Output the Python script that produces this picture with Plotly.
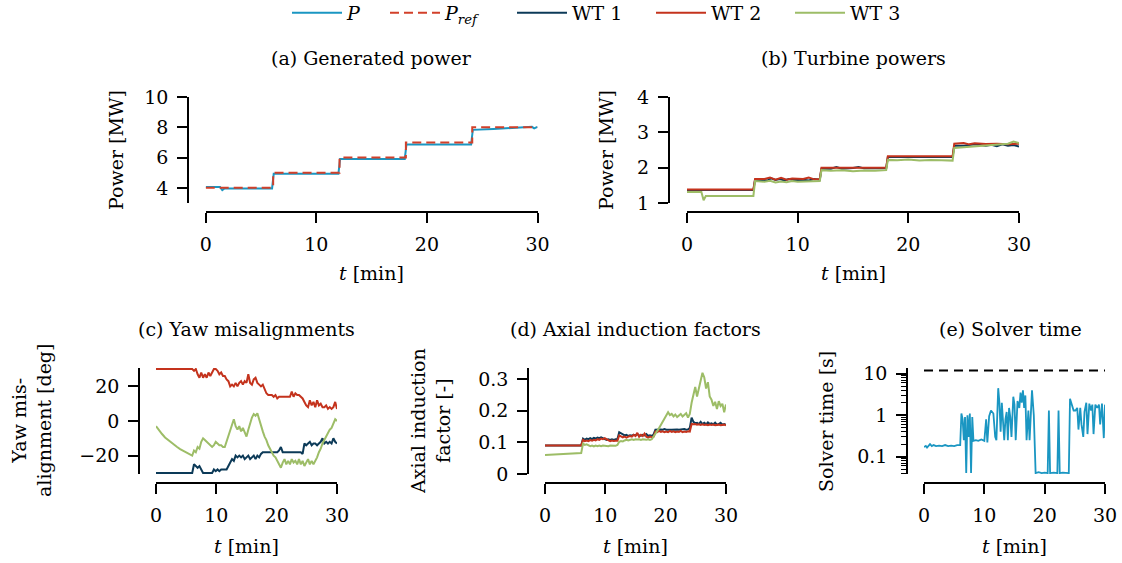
import plotly.graph_objects as go

# ---------------- data ----------------
# (a) generated power
T_P = [0, 1.3, 1.5, 1.7, 6.0, 6.15, 12.0, 12.15, 18.0, 18.15, 24.0, 24.15, 26.0, 28.0, 29.5, 29.7, 30.0]
P = [4.05, 4.05, 3.85, 3.96, 3.96, 4.93, 4.93, 5.91, 5.91, 6.86, 6.86, 7.83, 7.88, 7.95, 8.03, 7.93, 8.03]
T_REF = [0, 6.1, 6.1, 12.1, 12.1, 18.1, 18.1, 24.1, 24.1, 30]
P_REF = [4, 4, 5, 5, 6, 6, 7, 7, 8, 8]

# (b) turbine powers
T_B1 = [0, 6.0, 6.15, 7.0, 7.3, 7.6, 8.0, 8.4, 8.8, 9.2, 9.6, 10.5, 11.0, 11.5, 12.0, 12.15, 13.0, 13.5, 14.0,
        15.0, 15.5, 16.0, 18.0, 18.15, 24.0, 24.15, 25.0, 26.0, 27.0, 27.5, 28.0, 28.5, 29.0, 29.5, 30.0]
WT1_P = [1.37, 1.37, 1.66, 1.66, 1.64, 1.70, 1.65, 1.68, 1.64, 1.68, 1.65, 1.66, 1.64, 1.68, 1.66, 1.97, 1.97, 2.02, 1.97,
         1.99, 2.02, 1.98, 1.98, 2.30, 2.30, 2.62, 2.62, 2.66, 2.62, 2.65, 2.61, 2.66, 2.62, 2.64, 2.60]
T_B2 = [0, 6.0, 6.15, 7.0, 7.5, 8.0, 8.5, 9.0, 9.5, 10.5, 11.0, 11.5, 12.0, 12.15, 18.0, 18.15, 24.0, 24.15,
        25.0, 25.5, 26.0, 27.0, 28.0, 29.0, 30.0]
WT2_P = [1.38, 1.38, 1.68, 1.68, 1.72, 1.66, 1.71, 1.66, 1.69, 1.68, 1.72, 1.67, 1.68, 2.00, 2.00, 2.32, 2.32, 2.68,
         2.70, 2.66, 2.69, 2.67, 2.68, 2.66, 2.68]
T_B3 = [0, 1.3, 1.5, 1.7, 6.0, 6.15, 7, 7.5, 8, 8.5, 9, 9.5, 10, 11, 12, 12.15, 13, 14, 15, 16, 17, 18, 18.15,
        19, 20, 21, 22, 23, 24, 24.15, 25, 26, 27, 28, 29, 29.5, 30]
WT3_P = [1.31, 1.31, 1.08, 1.20, 1.20, 1.62, 1.60, 1.63, 1.58, 1.61, 1.59, 1.62, 1.60, 1.61, 1.62, 1.93, 1.91, 1.93,
         1.90, 1.92, 1.91, 1.93, 2.22, 2.21, 2.23, 2.20, 2.22, 2.21, 2.20, 2.56, 2.58, 2.60, 2.62, 2.64, 2.68, 2.74, 2.70]

# common time grid for (c) and (d) after the first step
T_GRID = [6.0, 6.3, 6.6, 6.9, 7.2, 7.5, 7.8, 8.1, 8.4, 8.7,
          9.0, 9.3, 9.6, 9.9, 10.2, 10.5, 10.8, 11.1, 11.4, 11.7,
          12.0, 12.3, 12.6, 12.9, 13.2, 13.5, 13.8, 14.1, 14.4, 14.7,
          15.0, 15.3, 15.6, 15.9, 16.2, 16.5, 16.8, 17.1, 17.4, 17.7,
          18.0, 18.3, 18.6, 18.9, 19.2, 19.5, 19.8, 20.1, 20.4, 20.7,
          21.0, 21.3, 21.6, 21.9, 22.2, 22.5, 22.8, 23.1, 23.4, 23.7,
          24.0, 24.3, 24.6, 24.9, 25.2, 25.5, 25.8, 26.1, 26.4, 26.7,
          27.0, 27.3, 27.6, 27.9, 28.2, 28.5, 28.8, 29.1, 29.4, 29.7,
          30.0]

# (c) yaw misalignments [deg]
T_YAW_HEAD_12 = [0]
YAW1_HEAD = [-30]
YAW2_HEAD = [30]
YAW1 = [-30, -25, -26, -27, -26, -28, -30, -30, -30, -30,
        -30, -30, -28, -29, -28, -29, -28, -28, -28, -28,
        -26, -24, -22, -23, -20, -21, -20, -21, -20, -22,
        -21, -20, -22, -21, -20, -22, -20, -21, -19, -18,
        -18, -18, -18, -18, -18, -18, -18, -18, -17, -15,
        -18, -18, -18, -18, -18, -18, -18, -18, -18, -18,
        -18, -19, -13, -14, -13, -12, -14, -13, -13, -14,
        -13, -12, -10, -13, -12, -13, -12, -13, -10, -12,
        -13]
YAW2 = [30, 29, 30, 27, 25, 28, 25, 27, 25, 28,
        26, 28, 30, 30, 29, 27, 28, 26, 26, 24,
        23, 20, 21, 20, 22, 20, 22, 23, 21, 23,
        22, 27, 22, 21, 24, 25, 22, 21, 20, 21,
        18, 16, 15, 15, 15, 14, 15, 13, 14, 14,
        14, 14, 14, 14, 14, 17, 14, 16, 15, 15,
        14, 13, 11, 9, 8, 12, 9, 11, 8, 12,
        9, 10, 8, 8, 9, 7, 8, 7, 8, 11,
        7]
T_YAW3_HEAD = [0, 0.5, 1.0, 1.5, 2.0, 2.5, 3.0, 3.5, 4.0, 4.5, 5.0, 5.5]
YAW3_HEAD = [-3, -5.5, -7.5, -9.5, -11, -12.5, -14, -15, -16.2, -17.2, -18.2, -19.1]
YAW3 = [-20, -17, -18, -15, -16, -12, -10, -11, -12, -13,
        -14, -15, -14, -12, -13, -14, -14, -15, -15, -12,
        -8, -5, -2, 1, -3, -5, -3, -6, -4, -7,
        -9, -5, -1, 2, 4, 3, 4.5, 1, -4, -6,
        -9, -11, -14, -16, -18, -20, -21, -23, -25, -27,
        -24, -22, -25, -23, -25, -22, -24, -23, -25, -22,
        -25, -23, -26, -24, -22, -25, -23, -25, -23, -21,
        -18, -16, -13, -11, -9, -7, -5, -4, -1, 1,
        0]

# (d) axial induction factors [-]
T_AX_HEAD = [0]
AX1_HEAD = [0.09]
AX2_HEAD = [0.09]
AX3_HEAD = [0.06]
AX1 = [0.09, 0.112, 0.108, 0.112, 0.11, 0.113, 0.11, 0.114, 0.112, 0.115,
       0.113, 0.116, 0.114, 0.112, 0.108, 0.11, 0.108, 0.11, 0.108, 0.11,
       0.11, 0.132, 0.128, 0.125, 0.122, 0.124, 0.12, 0.122, 0.121, 0.124,
       0.122, 0.126, 0.122, 0.121, 0.124, 0.122, 0.126, 0.12, 0.122, 0.12,
       0.125, 0.14, 0.141, 0.14, 0.141, 0.14, 0.142, 0.14, 0.141, 0.14,
       0.14, 0.141, 0.14, 0.141, 0.14, 0.141, 0.14, 0.142, 0.14, 0.141,
       0.145, 0.178, 0.165, 0.16, 0.162, 0.158, 0.165, 0.158, 0.162, 0.157,
       0.163, 0.158, 0.16, 0.157, 0.162, 0.156, 0.158, 0.162, 0.156, 0.158,
       0.155]
AX2 = [0.09, 0.108, 0.104, 0.106, 0.104, 0.107, 0.105, 0.108, 0.106, 0.11,
       0.108, 0.112, 0.11, 0.113, 0.11, 0.106, 0.104, 0.106, 0.104, 0.105,
       0.105, 0.122, 0.118, 0.116, 0.118, 0.115, 0.118, 0.12, 0.118, 0.124,
       0.12, 0.13, 0.118, 0.124, 0.12, 0.128, 0.118, 0.115, 0.118, 0.116,
       0.118, 0.134, 0.132, 0.136, 0.133, 0.135, 0.132, 0.134, 0.132, 0.136,
       0.133, 0.135, 0.132, 0.134, 0.133, 0.136, 0.132, 0.134, 0.133, 0.135,
       0.134, 0.158, 0.157, 0.158, 0.156, 0.157, 0.155, 0.157, 0.155, 0.156,
       0.154, 0.156, 0.155, 0.156, 0.154, 0.155, 0.156, 0.154, 0.155, 0.156,
       0.154]
AX3 = [0.066, 0.096, 0.092, 0.094, 0.09, 0.088, 0.09, 0.087, 0.09, 0.088,
       0.09, 0.088, 0.09, 0.089, 0.09, 0.088, 0.09, 0.089, 0.09, 0.089,
       0.092, 0.102, 0.104, 0.103, 0.106, 0.108, 0.106, 0.108, 0.11, 0.108,
       0.11, 0.109, 0.11, 0.108, 0.11, 0.109, 0.108, 0.11, 0.108, 0.11,
       0.118, 0.128, 0.138, 0.145, 0.155, 0.165, 0.175, 0.185, 0.195, 0.186,
       0.19, 0.182, 0.188, 0.18, 0.186, 0.19, 0.182, 0.186, 0.192, 0.178,
       0.19, 0.225, 0.255, 0.275, 0.245, 0.27, 0.3, 0.32, 0.305, 0.27,
       0.29, 0.245, 0.235, 0.215, 0.228, 0.205, 0.23, 0.215, 0.222, 0.195,
       0.22]

# (e) solver time [s]
T_SOLVE = [0, 0.3, 0.5, 0.8, 1.0, 1.3, 1.6, 2.0, 2.5, 3.0, 3.5, 4.0, 4.5, 5.0, 5.5, 6.0,
           6.2, 6.4, 6.6, 6.8, 7.0, 7.2, 7.4, 7.6, 7.8, 8.0, 8.2, 8.6, 9.0, 9.5, 10.0, 10.3, 10.5,
           10.8, 11.1, 11.5, 11.8, 12.0, 12.3, 12.5, 12.7, 12.9, 13.1, 13.3, 13.5, 13.7, 13.9, 14.1,
           14.3, 14.5, 14.8, 15.0, 15.2, 15.5, 15.8, 16.0, 16.2, 16.4, 16.6, 16.8, 17.0, 17.3, 17.5,
           17.9, 18.2, 18.5, 19.0, 19.5, 20.0, 20.5, 20.7, 20.9, 21.5, 22.1, 22.3, 22.5, 23.0, 23.5,
           24.0, 24.2, 24.5, 24.8, 25.1, 25.4, 25.6, 25.9, 26.1, 26.4, 26.6, 26.9, 27.1, 27.4, 27.7,
           27.9, 28.1, 28.4, 28.7, 29.0, 29.2, 29.5, 29.8, 30.0]
SOLVE = [0.17, 0.18, 0.165, 0.19, 0.2, 0.18, 0.19, 0.18, 0.185, 0.18, 0.19, 0.18, 0.185, 0.18, 0.19, 0.19,
         1.1, 0.8, 0.25, 0.9, 0.04, 1.0, 0.3, 1.1, 0.04, 0.9, 0.24, 0.25, 0.24, 0.26, 0.24, 0.8, 0.22,
         0.95, 1.3, 1.1, 0.3, 0.25, 4.5, 2.0, 0.4, 2.0, 0.9, 0.25, 0.8, 1.2, 0.25, 1.5,
         0.9, 0.3, 2.8, 1.8, 0.25, 2.2, 1.5, 3.5, 2.0, 4.0, 1.5, 3.0, 0.25, 1.3, 0.25,
         4.0, 1.0, 0.04, 0.042, 0.04, 0.041, 0.04, 1.3, 0.04, 0.041, 0.04, 1.3, 0.04, 0.041, 0.04,
         0.04, 2.5, 1.8, 1.3, 1.3, 1.5, 0.45, 1.5, 0.6, 0.3, 1.2, 2.0, 0.35, 1.9, 1.3,
         1.8, 0.35, 1.8, 1.5, 1.8, 0.6, 1.9, 0.28, 1.8]
T_LIMIT = [0, 30]
LIMIT = [12, 12]

X_TICKS = [0, 10, 20, 30]
LEGEND_NAMES = ["<i>P</i>", "<i>P</i><sub><i>ref</i></sub>", "WT 1", "WT 2", "WT 3"]

# ---------------- style ----------------
W, H = 1122, 563
FONT = "DejaVu Serif"
FS = 19
C_P = "#1a96c2"
C_REF = "#d2402a"
C_WT1 = "#0c3a58"
C_WT2 = "#c4331d"
C_WT3 = "#9dbd67"
LW = 2.0


def pxx(x):
    return x / W


def pxy(y):
    return 1 - y / H


# panel geometry in pixels: x of t=0 and t=30, y of top/bottom, spine positions
PANELS = {
    1: dict(x0=205.7, x1=537.5, yt=97, yb=203, ysp=188, xsp=212),
    2: dict(x0=687, x1=1019, yt=97, yb=203, ysp=668.6, xsp=212),
    3: dict(x0=156, x1=337, yt=368, yb=474, ysp=139, xsp=483),
    4: dict(x0=545, x1=726, yt=368, yb=474, ysp=528, xsp=483),
    5: dict(x0=924, x1=1105, yt=368, yb=474, ysp=907, xsp=483),
}
# left end of each legend line sample (pixels)
LEG_START = [292, 390, 517, 656, 795]
LEG_IDS = ["legend", "legend2", "legend3", "legend4", "legend5"]

fig = go.Figure()


def add(x, y, k, color, leg=None, dash=None, group=None, width=LW):
    suf = "" if k == 1 else str(k)
    if leg is not None:
        kw = dict(name=LEGEND_NAMES[leg], showlegend=True, legend=LEG_IDS[leg])
    else:
        kw = dict(showlegend=False)
    fig.add_trace(go.Scatter(
        x=x, y=y, mode="lines",
        line=dict(color=color, width=width, dash=dash),
        xaxis="x" + suf, yaxis="y" + suf,
        legendgroup=group, hoverinfo="skip", **kw))


# (a)
add(T_P, P, 1, C_P, leg=0, group="P")
add(T_REF, P_REF, 1, C_REF, leg=1, dash="9px,5px", group="ref")
# (b)
add(T_B1, WT1_P, 2, C_WT1, leg=2, group="wt1")
add(T_B2, WT2_P, 2, C_WT2, leg=3, group="wt2")
add(T_B3, WT3_P, 2, C_WT3, leg=4, group="wt3")
# (c)
add(T_YAW_HEAD_12 + T_GRID, YAW1_HEAD + YAW1, 3, C_WT1, group="wt1")
add(T_YAW_HEAD_12 + T_GRID, YAW2_HEAD + YAW2, 3, C_WT2, group="wt2")
add(T_YAW3_HEAD + T_GRID, YAW3_HEAD + YAW3, 3, C_WT3, group="wt3")
# (d)
add(T_AX_HEAD + T_GRID, AX1_HEAD + AX1, 4, C_WT1, group="wt1")
add(T_AX_HEAD + T_GRID, AX2_HEAD + AX2, 4, C_WT2, group="wt2")
add(T_AX_HEAD + T_GRID, AX3_HEAD + AX3, 4, C_WT3, group="wt3")
# (e)
add(T_SOLVE, SOLVE, 5, C_P, width=1.8)
add(T_LIMIT, LIMIT, 5, "black", dash="9px,6px", width=1.8)

tickfont = dict(family=FONT, size=FS, color="black")
common = dict(showline=True, linecolor="black", linewidth=1.6, ticks="outside", ticklen=10,
              tickwidth=1.6, tickcolor="black", showgrid=False, zeroline=False,
              tickfont=tickfont)

Y_CFG = {
    1: dict(range=[3, 10], tickvals=[4, 6, 8, 10]),
    2: dict(range=[1, 4], tickvals=[1, 2, 3, 4]),
    3: dict(range=[-30.6, 30.6], tickvals=[-20, 0, 20]),
    4: dict(range=[0, 0.335], tickvals=[0, 0.1, 0.2, 0.3], ticktext=["0", "0.1", "0.2", "0.3"]),
    5: dict(type="log", range=[-1.42, 1.14], dtick=1,
            minor=dict(ticks="outside", ticklen=5, tickwidth=1.2, tickcolor="black",
                       dtick="D1", showgrid=False)),
}

layout = {}
for k, p in PANELS.items():
    suf = "" if k == 1 else str(k)
    layout["xaxis" + suf] = dict(
        domain=[pxx(p["x0"]), pxx(p["x1"])], range=[0, 30], tickvals=X_TICKS,
        anchor="free", position=pxy(p["xsp"]), ticklabelstandoff=5, **common)
    layout["yaxis" + suf] = dict(
        domain=[pxy(p["yb"]), pxy(p["yt"])], anchor="free", position=pxx(p["ysp"]),
        ticklabelstandoff=5, **common, **Y_CFG[k])

for i, lid in enumerate(LEG_IDS):
    layout[lid] = dict(orientation="h", x=pxx(LEG_START[i] - 5), xanchor="left",
                       y=pxy(13), yanchor="middle", itemwidth=50,
                       font=dict(family=FONT, size=FS, color="black"),
                       bgcolor="rgba(0,0,0,0)", borderwidth=0)

annotations = []


def ann(text, x, y, angle=0):
    annotations.append(dict(text=text, x=pxx(x), y=pxy(y), xref="paper", yref="paper",
                            showarrow=False, xanchor="center", yanchor="middle",
                            textangle=angle, font=dict(family=FONT, size=FS, color="black")))


# panel titles
ann("(a) Generated power", 371, 58)
ann("(b) Turbine powers", 853, 58)
ann("(c) Yaw misalignments", 246, 329)
ann("(d) Axial induction factors", 635, 329)
ann("(e) Solver time", 1010, 329)
# x titles
for k, p in PANELS.items():
    ann("<i>t</i> [min]", (p["x0"] + p["x1"]) / 2, 273 if k <= 2 else 546)
# y titles
ann("Power [MW]", 116, 150, -90)
ann("Power [MW]", 606, 150, -90)
ann("Yaw mis-<br>alignment [deg]", 31, 421, -90)
ann("Axial induction<br>factor [-]", 430, 421, -90)
ann("Solver time [s]", 826, 422, -90)

fig.update_layout(
    width=W, height=H, autosize=False,
    margin=dict(l=0, r=0, t=0, b=0, autoexpand=False),
    paper_bgcolor="white", plot_bgcolor="white",
    font=dict(family=FONT, size=FS, color="black"),
    showlegend=True,
    annotations=annotations,
    **layout)

fig.write_html(
    "out.html",
    config={"displayModeBar": False},
    post_script="document.body.style.margin='0';document.body.style.padding='0';"
                "document.body.style.overflow='hidden';")
